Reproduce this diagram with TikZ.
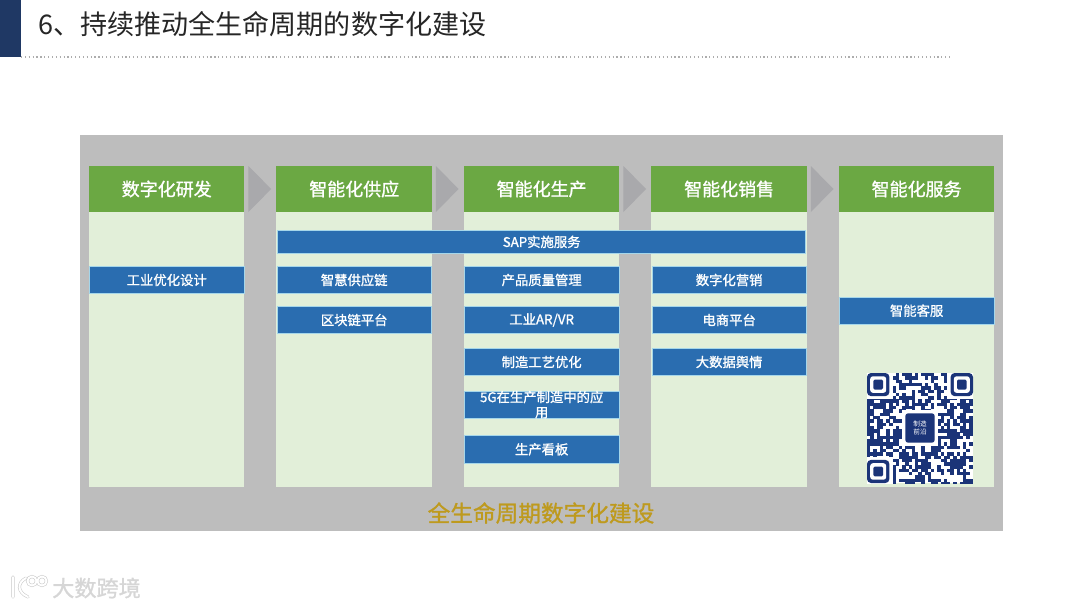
\documentclass[tikz,border=0pt]{standalone}
\usepackage{fontspec}
\setmainfont{Noto Sans CJK SC}
\newfontfamily\medfont[FakeBold=1.2]{Noto Sans CJK SC}
\usetikzlibrary{positioning}
\definecolor{panelgray}{HTML}{BDBDBD}
\definecolor{chevgray}{HTML}{A9A9AC}
\definecolor{headgreen}{HTML}{6BA843}
\definecolor{bodygreen}{HTML}{E2EFD9}
\definecolor{barblue}{HTML}{2A6DB0}
\definecolor{baredge}{HTML}{A5D6EA}
\definecolor{titlenavy}{HTML}{1F3864}
\definecolor{qrblue}{HTML}{1B3478}
\definecolor{goldtext}{HTML}{BE9A1E}
\newcommand{\qrfinder}[2]{%
  \fill[white] (#1-3.2,#2-3.3) rectangle ++(28.8,29.7);
  \fill[qrblue,rounded corners=3pt] (#1,#2) rectangle ++(22.4,23.1);
  \fill[white,rounded corners=2pt] (#1+3.2,#2+3.3) rectangle ++(16,16.5);
  \fill[qrblue,rounded corners=1pt] (#1+6.4,#2+6.6) rectangle ++(9.6,9.9);
}
\begin{document}
\begin{tikzpicture}[x=0.75pt,y=-0.75pt,node distance=24pt,
   headbox/.style={fill=headgreen,text=white,font=\fontsize{13.5}{15}\medfont,
     minimum width=116.6pt,minimum height=34.5pt,inner sep=0pt,outer sep=0pt},
   bodybox/.style={fill=bodygreen,minimum width=116.6pt,minimum height=206.5pt,inner sep=0pt,outer sep=0pt},
   barbox/.style={fill=barblue,draw=baredge,line width=0.3pt,text=white,
     font=\fontsize{10}{11.5}\medfont,
     minimum width=116pt,minimum height=20pt,inner sep=0pt,outer sep=0pt,align=center}]
\useasboundingbox (0,0) rectangle (1080,608);
% title
\node[fill=titlenavy,minimum width=15.75pt,minimum height=42.75pt,inner sep=0pt,outer sep=0pt,anchor=north west] (navybar) at (0,0) {};
\node[anchor=west,inner sep=0pt,font=\fontsize{20.3}{22}\selectfont,text=black!85] (title) at (38,24) {6、持续推动全生命周期的数字化建设};
\coordinate (ruleend) at (950,57);
\draw[black!32,dotted,line width=0.9pt] (navybar.south east) -- (ruleend);
% panel
\node[fill=panelgray,minimum width=692.25pt,minimum height=297pt,inner sep=0pt,outer sep=0pt,anchor=north west] (panel) at (80,135) {};
% columns
\node[headbox,anchor=north west] (hdr1) at (89,166) {数字化研发};
\node[headbox,right=of hdr1] (hdr2) {智能化供应};
\node[headbox,right=of hdr2] (hdr3) {智能化生产};
\node[headbox,right=of hdr3] (hdr4) {智能化销售};
\node[headbox,right=of hdr4] (hdr5) {智能化服务};
\foreach \i in {1,...,5} {
  \node[bodybox,below=0pt of hdr\i] (body\i) {};
}
\foreach \i in {1,...,4} {
  \fill[chevgray] ([xshift=3pt]hdr\i.north east) -- ([xshift=20pt]hdr\i.east) -- ([xshift=3pt]hdr\i.south east) -- cycle;
}
% bars
\node[barbox,minimum width=396pt,minimum height=17.25pt,below=13.75pt of hdr3] (sap) {SAP实施服务};
\node[barbox,below=41pt of hdr1] (des1) {工业优化设计};
\node[barbox,below=41pt of hdr2] (sup1) {智慧供应链};
\node[barbox,below=10pt of sup1] (sup2) {区块链平台};
\node[barbox,below=41pt of hdr3] (pro1) {产品质量管理};
\node[barbox,below=10pt of pro1] (pro2) {工业AR/VR};
\node[barbox,below=11.5pt of pro2] (pro3) {制造工艺优化};
\node[barbox,below=12pt of pro3,inner ysep=-1.3pt] (pro4) {5G在生产制造中的应\\用};
\node[barbox,minimum height=21pt,below=13pt of pro4] (pro5) {生产看板};
\node[barbox,below=41pt of hdr4] (sal1) {数字化营销};
\node[barbox,below=10pt of sal1] (sal2) {电商平台};
\node[barbox,below=11.5pt of sal2] (sal3) {大数据舆情};
\node[barbox,below=64pt of hdr5] (ser1) {智能客服};
% bottom label
\node[font=\fontsize{17}{19}\medfont,text=goldtext,inner sep=0pt] (whole) at (541,513) {全生命周期数字化建设};
% qr code
\begin{scope}
\clip (867,373) rectangle (973,483);
\fill[white] (867,373) rectangle (973,483);
\pgfmathsetseed{17}
\foreach \i in {0,...,32} {
  \foreach \j in {0,...,33} {
    \pgfmathrandominteger{\qbit}{0}{9}
    \ifnum\qbit<6
      \fill[qrblue] (867+3.2*\i,373+3.3*\j) rectangle ++(3.3,3.4);
    \fi
  }
}
\qrfinder{867}{373}
\qrfinder{950.6}{373}
\qrfinder{867}{459.9}
\end{scope}
\fill[white] (902,410) rectangle (938,446);
\node[fill=qrblue,rounded corners=2pt,minimum size=22pt,inner sep=0pt,text=white,align=center,
  font=\fontsize{5}{6}\selectfont] (qrlogo) at (920,428) {制造\\前沿};
% watermark
\node[anchor=west,inner sep=0pt,text=black!16,font=\fontsize{16.6}{18}\medfont] (mark) at (52,588) {大数跨境};
\draw[black!22,double=white,double distance=1.5pt,line width=0.4pt,line cap=round]
  (13,577) -- (13,597)
  (26,578) .. controls (17,583) and (17,592) .. (28,597)
  (32,581) circle[radius=4.5]
  (42,581) circle[radius=4.5];
\end{tikzpicture}
\end{document}
